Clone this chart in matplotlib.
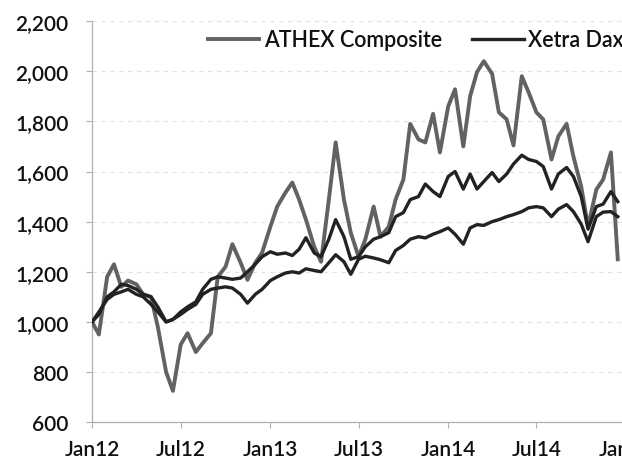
import matplotlib
matplotlib.use("Agg")
import matplotlib.pyplot as plt
import matplotlib.dates as mdates
import pandas as pd

plt.rcParams['font.family'] = ['Lato', 'DejaVu Sans']

# semi-monthly observations, rebased to 1,000 at the start of 2012
dates = pd.date_range('2012-01-01', periods=72, freq='SMS')

athex = [1000, 950, 1180, 1230, 1140, 1165, 1150, 1110, 1100, 980, 800, 725,
         910, 955, 880, 915, 955, 1180, 1220, 1310, 1236, 1168, 1236, 1276,
         1380, 1460, 1516, 1556, 1488, 1408, 1300, 1240, 1488, 1716, 1488, 1356,
         1260, 1330, 1460, 1340, 1380, 1488, 1568, 1790, 1728, 1716, 1830, 1676,
         1860, 1928, 1700, 1900, 1996, 2040, 1990, 1836, 1808, 1704, 1980, 1916,
         1836, 1808, 1648, 1740, 1790, 1660, 1540, 1380, 1528, 1568, 1676, 1250]

dax = [1000, 1030, 1100, 1120, 1150, 1145, 1130, 1110, 1100, 1060, 1000, 1010,
       1040, 1060, 1080, 1130, 1170, 1180, 1175, 1170, 1175, 1200, 1230, 1260,
       1280, 1270, 1275, 1265, 1290, 1336, 1275, 1260, 1330, 1408, 1340, 1250,
       1260, 1300, 1330, 1340, 1356, 1420, 1436, 1488, 1500, 1550, 1520, 1500,
       1580, 1600, 1530, 1590, 1530, 1560, 1596, 1560, 1590, 1630, 1665, 1648,
       1640, 1620, 1530, 1590, 1616, 1580, 1500, 1370, 1460, 1470, 1520, 1480]

other = [1000, 1040, 1090, 1110, 1120, 1130, 1110, 1100, 1070, 1040, 1000, 1010,
         1030, 1050, 1070, 1110, 1130, 1135, 1140, 1135, 1110, 1075, 1110, 1130,
         1165, 1180, 1195, 1200, 1195, 1212, 1205, 1200, 1236, 1268, 1240, 1190,
         1250, 1262, 1255, 1248, 1236, 1285, 1305, 1330, 1340, 1335, 1350, 1360,
         1375, 1350, 1310, 1375, 1388, 1385, 1400, 1408, 1420, 1428, 1440, 1455,
         1460, 1455, 1420, 1450, 1468, 1440, 1390, 1320, 1420, 1438, 1440, 1420]

yticks = [600, 800, 1000, 1200, 1400, 1600, 1800, 2000, 2200]

fig = plt.figure(figsize=(6.22, 4.6), dpi=100)
ax = fig.add_axes([0.148, 0.080, 0.8585, 0.872])

ax.plot(dates, athex, color='#626262', lw=2.8, label='ATHEX Composite', zorder=3)
ax.plot(dates, dax, color='#222222', lw=2.4, label='Xetra Dax', zorder=4)
ax.plot(dates, other, color='#222222', lw=2.4, label='_nolegend_', zorder=4)

ax.set_ylim(600, 2200)
ax.set_yticks(yticks)
ax.yaxis.set_major_formatter(matplotlib.ticker.FuncFormatter(lambda v, p: f'{int(v):,}'))
ax.set_xlim(pd.Timestamp('2012-01-01'), pd.Timestamp('2015-01-01'))
ax.xaxis.set_major_locator(mdates.MonthLocator(bymonth=[1, 7]))
ax.xaxis.set_major_formatter(mdates.DateFormatter('%b%y'))

ax.grid(axis='y', color='#e2e2e2', lw=0.8, ls=(0, (4, 4)))
ax.set_axisbelow(True)
for s in ['top', 'right']:
    ax.spines[s].set_visible(False)
for s in ['left', 'bottom']:
    ax.spines[s].set_color('#b0b0b0')
    ax.spines[s].set_linewidth(0.9)

ax.tick_params(axis='y', length=4, color='#b0b0b0', pad=13, labelsize=15, labelcolor='#111111')
ax.tick_params(axis='x', length=4, color='#b0b0b0', pad=8, labelsize=15, labelcolor='#111111')
for lbl in ax.get_xticklabels() + ax.get_yticklabels():
    lbl.set_fontweight('semibold')

leg = ax.legend(loc='upper left', bbox_to_anchor=(0.334, 0.934), bbox_transform=fig.transFigure,
                ncol=3, frameon=False, fontsize=15.5, handlelength=2.4, handletextpad=0.2,
                columnspacing=1.4, borderaxespad=0, borderpad=0)
for t in leg.get_texts():
    t.set_color('#111111')
    t.set_fontweight('semibold')

fig.savefig('out.png', dpi=100, facecolor='white')
